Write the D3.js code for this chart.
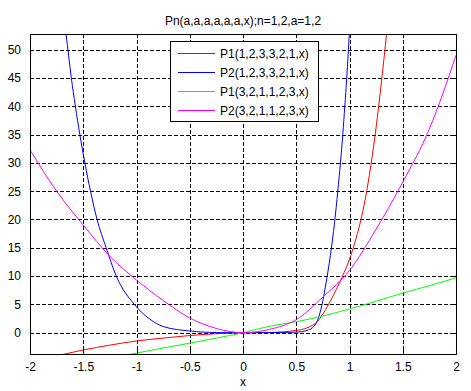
<!DOCTYPE html>
<html lang="en">
<head>
<meta charset="utf-8">
<title>Pn(a,a,a,a,a,a,x)</title>
<script src="https://d3js.org/d3.v7.min.js"></script>
<style>
  body { margin: 0; background: #fff; }
  svg text { font-family: "Liberation Sans", Arial, sans-serif; font-size: 12px; fill: #000; }
</style>
</head>
<body>
<script>
// values
const xTicks = [-2, -1.5, -1, -0.5, 0, 0.5, 1, 1.5, 2];
const xTickLabels = ["-2", "-1.5", "-1", "-0.5", "0", "0.5", "1", "1.5", "2"];
const yTicks = [0, 5, 10, 15, 20, 25, 30, 35, 40, 45, 50];

const redX = [-1.75, -1.5, -1.25, -1, -0.75, -0.5, -0.25, 0, 0.25, 0.5, 0.6, 0.7, 0.8, 0.9, 1, 1.05, 1.1, 1.15, 1.2, 1.25, 1.3, 1.35, 1.4];
const redY = [-4.1, -3.05, -2.2, -1.46, -0.95, -0.5, -0.18, 0, 0.05, 0.4, 0.85, 2.0, 4.9, 8.6, 13.0, 15.9, 19.4, 23.8, 29.5, 36.3, 44.3, 53.2, 63];

const blueX = [-1.7, -1.662, -1.612, -1.574, -1.532, -1.485, -1.432, -1.37, -1.285, -1.19, -1.02, -0.875, -0.75, -0.5, -0.25, 0, 0.25, 0.5, 0.6, 0.65, 0.7, 0.74, 0.78, 0.82, 0.86, 0.89, 0.915, 0.937, 0.956, 0.974, 0.99, 1.005];
const blueY = [58, 52.8, 45, 40, 35, 30, 25, 20, 15, 10, 5, 2.4, 1.1, 0.3, 0.03, 0, 0.01, 0.1, 0.4, 0.85, 2.2, 4.8, 8.8, 13.6, 19.5, 25, 30, 35, 40, 45, 50, 55];

const greenX = [-1.1, -1, -0.75, -0.5, -0.25, 0, 0.25, 0.5, 0.75, 1, 1.25, 1.5, 1.75, 2];
const greenY = [-3.95, -3.6, -2.7, -1.85, -0.95, 0, 1.15, 1.95, 2.95, 4.2, 5.55, 7.0, 8.3, 9.7];

const magX = [-2, -1.75, -1.5, -1.25, -1, -0.75, -0.5, -0.25, 0, 0.25, 0.5, 0.75, 1, 1.25, 1.5, 1.75, 2];
const magY = [32.3, 25.0, 19.0, 13.5, 9.3, 5.7, 2.6, 0.75, 0, 0.6, 2.3, 6.3, 11, 18.3, 26.6, 36.0, 49];

const seriesNames = ["P1(1,2,3,3,2,1,x)", "P2(1,2,3,3,2,1,x)", "P1(3,2,1,1,2,3,x)", "P2(3,2,1,1,2,3,x)"];
const seriesColors = ["#ff0000", "#0000ff", "#00ff00", "#ff00ff"];

const width = 471, height = 391;
const plotLeft = 30, plotRight = 456, plotTop = 34, plotBottom = 354;

const series = [[redX, redY], [blueX, blueY], [greenX, greenY], [magX, magY]].map((s, i) => ({
  name: seriesNames[i],
  color: seriesColors[i],
  points: s[0].map((x, j) => ({x: x, y: s[1][j]}))
}));

const xScale = d3.scaleLinear().domain([-2, 2]).range([plotLeft, plotRight]);
const yScale = d3.scaleLinear().domain([-3.76, 52.76]).range([plotBottom, plotTop]);

const svg = d3.select("body").append("svg")
  .attr("width", width)
  .attr("height", height);

svg.append("rect").attr("width", width).attr("height", height).attr("fill", "#fff");

svg.append("defs").append("clipPath").attr("id", "plot")
  .append("rect")
  .attr("x", plotLeft).attr("y", plotTop)
  .attr("width", plotRight - plotLeft).attr("height", plotBottom - plotTop);

// dashed grid
const grid = svg.append("g")
  .attr("stroke", "#000")
  .attr("stroke-dasharray", "4,2")
  .attr("shape-rendering", "crispEdges");

grid.selectAll(".gx").data(xTicks.slice(1, -1)).enter().append("line")
  .attr("x1", d => Math.round(xScale(d)) + 0.5).attr("x2", d => Math.round(xScale(d)) + 0.5)
  .attr("y1", plotTop).attr("y2", plotBottom);

grid.selectAll(".gy").data(yTicks).enter().append("line")
  .attr("y1", d => Math.round(yScale(d)) + 0.5).attr("y2", d => Math.round(yScale(d)) + 0.5)
  .attr("x1", plotLeft).attr("x2", plotRight);

// curves
const line = d3.line()
  .x(d => xScale(d.x))
  .y(d => yScale(d.y))
  .curve(d3.curveMonotoneX);

svg.append("g").attr("clip-path", "url(#plot)")
  .selectAll("path").data(series).enter().append("path")
  .attr("d", d => line(d.points))
  .attr("fill", "none")
  .attr("stroke", d => d.color)
  .attr("stroke-width", 1);

// axes with inward ticks
const bottomAxis = d3.axisBottom(xScale).tickValues(xTicks).tickSize(-4).tickPadding(8)
  .tickFormat((d, i) => xTickLabels[i]);
const topAxis = d3.axisTop(xScale).tickValues(xTicks).tickSize(-4).tickFormat("");
const leftAxis = d3.axisLeft(yScale).tickValues(yTicks).tickSize(-4).tickPadding(9);
const rightAxis = d3.axisRight(yScale).tickValues(yTicks).tickSize(-4).tickFormat("");

function styleAxis(g) {
  g.select(".domain").remove();
  g.selectAll("line").attr("stroke", "#000").attr("shape-rendering", "crispEdges");
  g.selectAll("text").style("font-size", "12px").attr("fill", "#000");
}

svg.append("g").attr("transform", "translate(0," + plotBottom + ")").call(bottomAxis).call(styleAxis);
svg.append("g").attr("transform", "translate(0," + plotTop + ")").call(topAxis).call(styleAxis);
svg.append("g").attr("transform", "translate(" + plotLeft + ",0)").call(leftAxis).call(styleAxis);
svg.append("g").attr("transform", "translate(" + plotRight + ",0)").call(rightAxis).call(styleAxis);

svg.append("rect")
  .attr("x", plotLeft + 0.5).attr("y", plotTop + 0.5)
  .attr("width", plotRight - plotLeft).attr("height", plotBottom - plotTop)
  .attr("fill", "none").attr("stroke", "#000")
  .attr("shape-rendering", "crispEdges");

// title and label
svg.append("text")
  .attr("x", (plotLeft + plotRight) / 2).attr("y", 25)
  .attr("text-anchor", "middle")
  .text("Pn(a,a,a,a,a,a,x);n=1,2,a=1,2");

svg.append("text")
  .attr("x", (plotLeft + plotRight) / 2).attr("y", 386)
  .attr("text-anchor", "middle")
  .text("x");

// legend
const legend = svg.append("g");
legend.append("rect")
  .attr("x", 170.5).attr("y", 41.5)
  .attr("width", 148).attr("height", 80)
  .attr("fill", "#fff").attr("stroke", "#000")
  .attr("shape-rendering", "crispEdges");

const rows = legend.selectAll(".row").data(series).enter().append("g")
  .attr("class", "row")
  .attr("transform", (d, i) => "translate(0," + (53.5 + i * 19) + ")");
rows.append("line")
  .attr("x1", 178).attr("x2", 215)
  .attr("y1", 0).attr("y2", 0)
  .attr("stroke", d => d.color)
  .attr("stroke-width", 1.2);
rows.append("text")
  .attr("x", 220).attr("dy", "0.35em")
  .text(d => d.name);
</script>
</body>
</html>
